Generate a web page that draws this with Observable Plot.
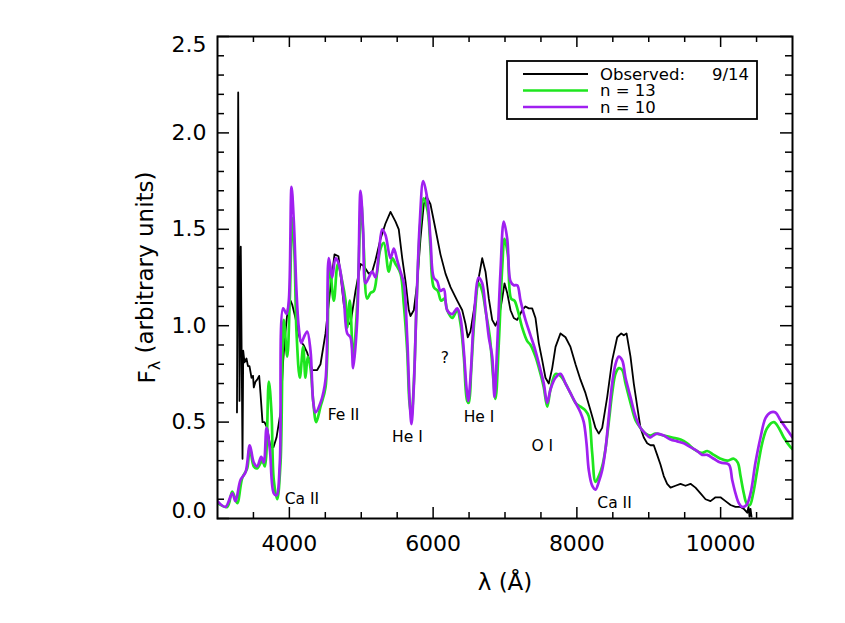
<!DOCTYPE html>
<html><head><meta charset="utf-8">
<script src="https://cdn.jsdelivr.net/npm/d3@7"></script>
<script src="https://cdn.jsdelivr.net/npm/@observablehq/plot@0.6"></script>
<style>body{margin:0;background:#fff}#chart{position:relative;width:845px;height:623px}</style>
</head><body><div id="chart"></div>
<script>
// Observed spectrum (9/14)
const obsWave=[3271,3288,3306,3324,3348,3358,3376,3403,3424,3445,3473,3494,3505,3529,3552,3580,3598,3626,3654,3691,3737,3779,3821,3877,3914,3946,3978,4016,4039,4085,4127,4155,4197,4248,4318,4387,4433,4503,4572,4628,4683,4757,4827,4850,4920,4990,5035,5105,5152,5198,5268,5337,5407,5477,5522,5570,5616,5662,5685,5731,5778,5824,5870,5908,5963,6033,6102,6172,6242,6335,6405,6450,6482,6520,6566,6635,6683,6729,6775,6822,6868,6914,6961,6993,7031,7077,7122,7170,7239,7285,7331,7378,7424,7470,7518,7563,7609,7657,7703,7772,7842,7911,7981,8050,8120,8190,8259,8305,8352,8422,8491,8561,8617,8653,8691,8746,8792,8840,8885,8931,8978,9024,9070,9117,9163,9209,9256,9303,9372,9442,9511,9581,9650,9720,9790,9859,9929,9998,10068,10138,10207,10277,10323,10370,10388,10402,10416,10430];
const obsFlux=[0.55,2.21,0.61,1.41,0.31,0.87,0.81,0.83,0.79,0.79,0.73,0.74,0.68,0.71,0.72,0.74,0.65,0.50,0.50,0.47,0.37,0.37,0.42,0.55,0.82,0.97,1.09,1.13,1.11,1.04,0.96,0.92,0.90,0.86,0.77,0.77,0.80,0.96,1.20,1.37,1.36,1.11,1.01,1.01,1.18,1.32,1.31,1.27,1.28,1.34,1.45,1.53,1.59,1.54,1.50,1.35,1.23,1.08,1.05,1.08,1.22,1.45,1.63,1.67,1.63,1.50,1.37,1.27,1.20,1.13,1.08,1.01,0.94,0.97,1.08,1.25,1.35,1.28,1.14,1.03,1.00,1.04,1.14,1.22,1.17,1.08,1.04,1.03,1.08,1.10,1.09,1.09,1.04,0.91,0.82,0.73,0.70,0.78,0.89,0.96,0.94,0.89,0.80,0.72,0.65,0.56,0.47,0.44,0.47,0.63,0.82,0.94,0.96,0.95,0.96,0.84,0.70,0.58,0.47,0.42,0.39,0.38,0.38,0.33,0.28,0.22,0.18,0.16,0.17,0.18,0.17,0.18,0.16,0.13,0.10,0.09,0.11,0.11,0.09,0.07,0.06,0.06,0.05,0.03,0.06,0.01,0.05,0.01];
// Model n = 13
const n13Wave=[3000,3135,3205,3274,3344,3413,3449,3505,3552,3622,3658,3714,3751,3783,3831,3877,3922,3970,4006,4039,4071,4099,4145,4192,4224,4256,4294,4331,4373,4433,4503,4558,4618,4674,4735,4781,4805,4841,4888,4944,5000,5035,5083,5129,5175,5222,5268,5314,5383,5431,5477,5546,5592,5639,5671,5699,5731,5778,5824,5870,5926,5963,6009,6065,6112,6158,6196,6265,6335,6381,6427,6474,6496,6530,6576,6635,6683,6729,6789,6836,6868,6914,6961,6993,7039,7086,7131,7178,7239,7309,7355,7424,7494,7540,7587,7633,7703,7772,7842,7911,7981,8050,8120,8166,8213,8259,8305,8352,8398,8444,8491,8537,8583,8631,8677,8746,8816,8885,8955,9024,9094,9209,9326,9442,9535,9627,9744,9813,9905,9998,10091,10184,10239,10277,10323,10360,10406,10453,10509,10578,10648,10740,10810,10879,10972,11000];
const n13Flux=[0.08,0.06,0.14,0.08,0.21,0.26,0.37,0.27,0.26,0.30,0.27,0.71,0.55,0.20,0.10,0.29,1.03,0.84,1.14,1.56,1.37,0.97,0.73,0.89,0.73,0.84,0.78,0.61,0.50,0.58,0.68,1.32,1.13,1.32,1.23,1.13,0.99,1.13,0.84,1.11,1.64,1.40,1.14,1.17,1.18,1.28,1.40,1.43,1.28,1.35,1.32,1.27,1.11,0.87,0.60,0.53,0.70,1.20,1.54,1.66,1.59,1.40,1.20,1.18,1.13,1.14,1.08,1.04,1.08,1.01,0.84,0.61,0.60,0.77,1.04,1.22,1.18,1.08,0.94,0.73,0.62,0.91,1.30,1.45,1.37,1.14,1.13,1.08,0.99,0.92,0.90,0.84,0.75,0.68,0.58,0.67,0.75,0.74,0.70,0.65,0.60,0.58,0.56,0.53,0.34,0.19,0.22,0.27,0.36,0.50,0.65,0.75,0.78,0.77,0.70,0.60,0.51,0.47,0.44,0.43,0.44,0.43,0.42,0.41,0.39,0.36,0.34,0.35,0.33,0.31,0.30,0.31,0.29,0.22,0.13,0.08,0.07,0.13,0.25,0.39,0.47,0.50,0.47,0.42,0.37,0.36];
// Model n = 10
const n10Wave=[3000,3111,3205,3250,3320,3390,3449,3505,3552,3608,3644,3682,3728,3783,3821,3867,3914,3960,3992,4030,4062,4099,4131,4165,4201,4248,4294,4331,4363,4433,4503,4549,4596,4642,4688,4757,4805,4850,4888,4944,4990,5027,5059,5105,5152,5198,5244,5291,5337,5407,5453,5500,5546,5592,5639,5675,5699,5731,5769,5815,5862,5918,5963,6009,6057,6103,6148,6196,6265,6335,6381,6427,6464,6488,6520,6566,6635,6683,6729,6775,6822,6854,6891,6937,6983,7031,7077,7122,7170,7216,7285,7355,7424,7494,7540,7587,7633,7703,7772,7842,7911,7981,8050,8096,8134,8166,8213,8259,8305,8352,8398,8444,8491,8537,8583,8631,8677,8746,8816,8885,8955,9015,9062,9118,9209,9303,9396,9488,9581,9674,9744,9813,9905,9998,10114,10161,10207,10253,10300,10360,10416,10485,10555,10624,10694,10763,10833,10926,11000];
const n10Flux=[0.09,0.06,0.13,0.09,0.20,0.24,0.38,0.29,0.27,0.32,0.29,0.47,0.36,0.13,0.12,0.29,1.09,1.06,1.13,1.72,1.54,1.18,0.99,0.91,0.94,0.97,0.87,0.61,0.55,0.60,0.72,1.35,1.25,1.35,1.32,1.14,0.96,0.94,0.78,1.03,1.70,1.49,1.22,1.25,1.28,1.25,1.37,1.50,1.47,1.35,1.40,1.34,1.28,1.22,0.94,0.60,0.49,0.68,1.11,1.54,1.75,1.66,1.45,1.25,1.23,1.18,1.19,1.08,1.06,1.09,1.04,0.87,0.68,0.61,0.73,1.03,1.25,1.22,1.09,0.94,0.84,0.63,0.89,1.28,1.54,1.45,1.23,1.21,1.21,1.13,1.03,0.95,0.87,0.77,0.70,0.60,0.67,0.73,0.75,0.70,0.65,0.60,0.55,0.50,0.39,0.25,0.17,0.15,0.19,0.25,0.36,0.53,0.70,0.80,0.84,0.82,0.73,0.63,0.53,0.47,0.44,0.42,0.43,0.44,0.43,0.41,0.40,0.39,0.37,0.35,0.33,0.33,0.31,0.29,0.28,0.20,0.13,0.08,0.06,0.07,0.13,0.29,0.42,0.52,0.55,0.55,0.51,0.46,0.42];

// Axis ticks
const xMajor=[4000,6000,8000,10000];
const xMinor=[3500,4500,5000,5500,6500,7000,7500,8500,9000,9500,10500];
const yMajor=[0,0.5,1.0,1.5,2.0,2.5];
const yMinor=[0.1,0.2,0.3,0.4,0.6,0.7,0.8,0.9,1.1,1.2,1.3,1.4,1.6,1.7,1.8,1.9,2.1,2.2,2.3,2.4];

// Line identifications
const lineLabels=["Ca II","Fe II","He I","?","He I","O I","Ca II"];
const lineLabelWave=[4175,4753,5643,6162,6638,7519,8524];
const lineLabelFlux=[0.10,0.536,0.423,0.83,0.526,0.376,0.082];

// Legend
const seriesNames=["Observed:","n = 13","n = 10"];
const legendDate="9/14";
const seriesColors=["#000000","#1ee61e","#a020f0"];

const toRows=(w,f)=>w.map((x,i)=>({w:x,f:f[i]}));
const obs=toRows(obsWave,obsFlux), m13=toRows(n13Wave,n13Flux), m10=toRows(n10Wave,n10Flux);
const labelsT=lineLabels.map((t,i)=>({t,w:lineLabelWave[i],f:lineLabelFlux[i]}));

const W=845,H=623,mL=217,mR=53,mT=36,mB=105;
const fW=W-mL-mR, fH=H-mT-mB;
const FONT="DejaVu Sans, Verdana, sans-serif";
const tickFs=22;

const plot=Plot.plot({
  width:W,height:H,marginLeft:mL,marginRight:mR,marginTop:mT,marginBottom:mB,
  style:{fontFamily:FONT,background:"white",color:"black"},
  x:{domain:[3000,11000],axis:null},
  y:{domain:[0,2.5],axis:null},
  marks:[
    Plot.line(obs,{x:"w",y:"f",stroke:seriesColors[0],strokeWidth:1.8,clip:true}),
    Plot.line(m13,{x:"w",y:"f",stroke:seriesColors[1],strokeWidth:2.7,curve:"catmull-rom",clip:true}),
    Plot.line(m10,{x:"w",y:"f",stroke:seriesColors[2],strokeWidth:2.7,curve:"catmull-rom",clip:true}),
    // ticks (inward, mirrored)
    Plot.ruleX(xMajor,{x:d=>d,insetTop:fH-11,stroke:"black",strokeWidth:1.5}),
    Plot.ruleX(xMinor,{x:d=>d,insetTop:fH-6,stroke:"black",strokeWidth:1.5}),
    Plot.ruleX(xMajor,{x:d=>d,insetBottom:fH-11,stroke:"black",strokeWidth:1.5}),
    Plot.ruleX(xMinor,{x:d=>d,insetBottom:fH-6,stroke:"black",strokeWidth:1.5}),
    Plot.ruleY(yMajor,{y:d=>d,insetRight:fW-12,stroke:"black",strokeWidth:1.5}),
    Plot.ruleY(yMinor,{y:d=>d,insetRight:fW-7,stroke:"black",strokeWidth:1.5}),
    Plot.ruleY(yMajor,{y:d=>d,insetLeft:fW-12,stroke:"black",strokeWidth:1.5}),
    Plot.ruleY(yMinor,{y:d=>d,insetLeft:fW-7,stroke:"black",strokeWidth:1.5}),
    Plot.frame({stroke:"black",strokeWidth:2}),
    // tick labels
    Plot.text(xMajor,{x:d=>d,text:d=>String(d),frameAnchor:"bottom",lineAnchor:"middle",dy:25,fontSize:tickFs,fill:"black"}),
    Plot.text(yMajor.filter(d=>d>0&&d<2.5),{y:d=>d,text:d=>d.toFixed(1),frameAnchor:"left",textAnchor:"end",lineAnchor:"middle",dx:-11,fontSize:tickFs,fill:"black"}),
    Plot.text(yMajor.filter(d=>d===2.5),{y:d=>d,text:d=>d.toFixed(1),frameAnchor:"left",textAnchor:"end",lineAnchor:"middle",dx:-11,dy:8,fontSize:tickFs,fill:"black"}),
    Plot.text(yMajor.filter(d=>d===0),{y:d=>d,text:d=>d.toFixed(1),frameAnchor:"left",textAnchor:"end",lineAnchor:"middle",dx:-11,dy:-8,fontSize:tickFs,fill:"black"}),
    // axis titles
    Plot.text(["λ (Å)"],{text:d=>d,frameAnchor:"bottom",lineAnchor:"middle",dy:64,fontSize:23,fill:"black"}),
    Plot.text(["Fλ (arbitrary units)"],{text:d=>d,frameAnchor:"left",textAnchor:"middle",lineAnchor:"middle",dx:-70,rotate:-90,fontSize:23,fill:"black"}),
    // line IDs
    Plot.text(labelsT,{x:"w",y:"f",text:"t",lineAnchor:"middle",fontSize:15.5,fill:"black"})
  ]
});
document.getElementById("chart").appendChild(plot);

// subscript lambda in the y title
const svg=d3.select(plot);
svg.selectAll("text").filter(function(){return this.textContent==="Fλ (arbitrary units)";}).each(function(){
  const t=d3.select(this); t.text("");
  t.append("tspan").text("F");
  t.append("tspan").attr("dy","0.3em").attr("font-size","16px").text("λ");
  t.append("tspan").attr("dy","-0.3em").text(" (arbitrary units)");
});

// legend inside the plot area
const lg=svg.append("g").attr("font-family",FONT).attr("font-size","16.5px").attr("text-anchor","start");
lg.append("rect").attr("x",507).attr("y",61).attr("width",250).attr("height",58).attr("fill","white").attr("stroke","black").attr("stroke-width",1.8);
seriesNames.forEach((name,i)=>{
  const y=74+i*16.5;
  lg.append("line").attr("x1",523).attr("x2",588).attr("y1",y).attr("y2",y).attr("stroke",seriesColors[i]).attr("stroke-width",i===0?1.8:2.7);
  lg.append("text").attr("x",600).attr("y",y).attr("dy","0.35em").attr("text-anchor","start").attr("fill","black").text(name);
});
lg.append("text").attr("x",749).attr("y",74).attr("dy","0.35em").attr("text-anchor","end").attr("fill","black").text(legendDate);
</script></body></html>
